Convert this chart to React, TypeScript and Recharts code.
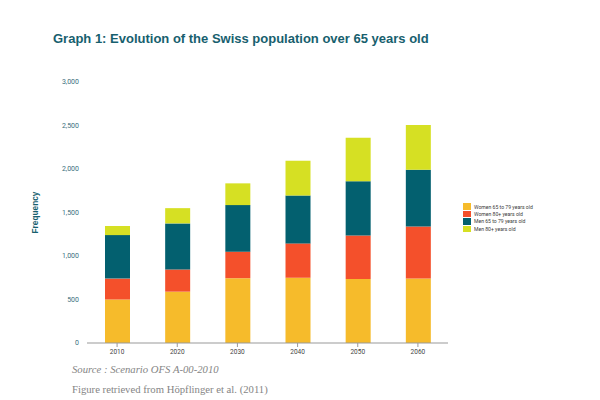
// @ts-nocheck
import { BarChart, Bar, XAxis, YAxis } from 'recharts'

const YEARS = ['2010', '2020', '2030', '2040', '2050', '2060']
const WOMEN_65_79 = [500, 590, 745, 750, 735, 740]
const WOMEN_80 = [240, 255, 305, 395, 500, 600]
const MEN_65_79 = [500, 530, 535, 550, 625, 650]
const MEN_80 = [105, 175, 250, 400, 500, 515]
const Y_TICKS = [0, 500, 1000, 1500, 2000, 2500, 3000]

const SERIES = [
  { key: 'w6579', name: 'Women 65 to 79 years old', color: '#f6bb2b' },
  { key: 'w80', name: 'Women 80+ years old', color: '#f4502b' },
  { key: 'm6579', name: 'Men 65 to 79 years old', color: '#03606f' },
  { key: 'm80', name: 'Men 80+ years old', color: '#d6e023' },
]

const data = YEARS.map((year, i) => ({
  year,
  w6579: WOMEN_65_79[i],
  w80: WOMEN_80[i],
  m6579: MEN_65_79[i],
  m80: MEN_80[i],
}))

function LegendBox() {
  return (
    <div style={{ position: 'absolute', left: 463, top: 203, fontFamily: 'Roboto', fontSize: 5.1, color: '#3a3a3a', whiteSpace: 'nowrap' }}>
      {SERIES.map(s => (
        <div key={s.key} style={{ display: 'flex', alignItems: 'center', height: 7.4 }}>
          <span style={{ width: 8, height: 6.6, background: s.color, marginRight: 3 }} />
          {s.name}
        </div>
      ))}
    </div>
  )
}

export default function App() {
  return (
    <div style={{ position: 'absolute', left: 0, top: 0, width: 600, height: 400, background: '#fff' }}>
      <div style={{ position: 'absolute', left: 53, top: 31, fontFamily: 'Liberation Sans', fontWeight: 'bold', fontSize: 13, color: '#17606e' }}>
        Graph 1: Evolution of the Swiss population over 65 years old
      </div>
      <BarChart width={600} height={400} data={data} margin={{ top: 82, right: 152, bottom: 37, left: 30 }}>
        <XAxis dataKey="year" height={20} stroke="#999" tickSize={4} tickMargin={2}
          tick={{ fontSize: 6.5, fontFamily: 'Roboto', fill: '#444' }} />
        <YAxis width={57} domain={[0, 3000]} ticks={Y_TICKS} axisLine={false} tickLine={false}
          tickFormatter={(v: number) => v.toLocaleString('en-US')}
          tick={{ fontSize: 7, fontFamily: 'Roboto', fill: '#3b6f7d' }}
          label={{ value: 'Frequency', angle: -90, position: 'insideLeft', offset: 5,
            style: { textAnchor: 'middle', fontFamily: 'Liberation Sans', fontWeight: 'bold', fontSize: 8.3, fill: '#17606e' } }} />
        {SERIES.map(s => (
          <Bar key={s.key} dataKey={s.key} name={s.name} stackId="a" fill={s.color} barSize={25} isAnimationActive={false} />
        ))}
      </BarChart>
      <LegendBox />
      <div style={{ position: 'absolute', left: 72, top: 363, fontFamily: 'Liberation Serif', fontStyle: 'italic', fontSize: 10.7, color: '#858585' }}>
        Source : Scenario OFS A-00-2010
      </div>
      <div style={{ position: 'absolute', left: 72, top: 383, fontFamily: 'Liberation Serif', fontSize: 10.7, color: '#858585' }}>
        Figure retrieved from Höpflinger et al. (2011)
      </div>
    </div>
  )
}
